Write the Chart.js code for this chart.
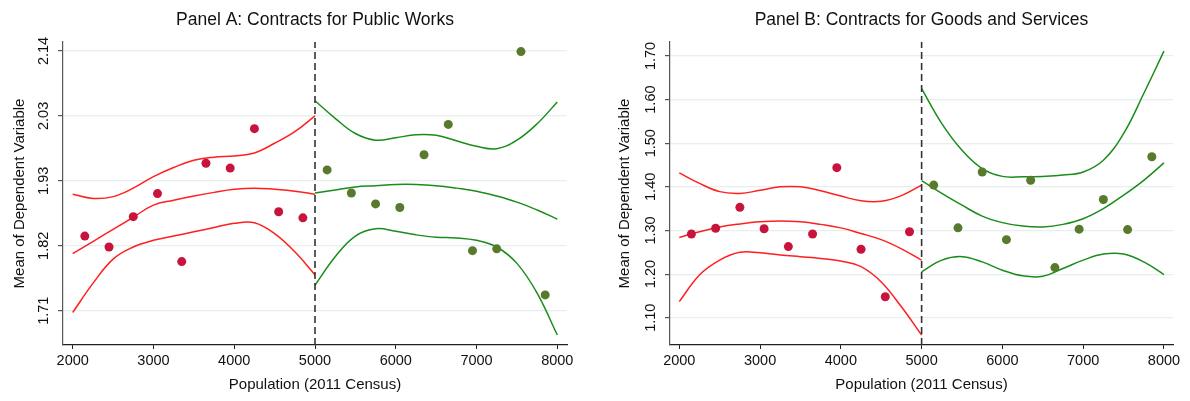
<!DOCTYPE html>
<html>
<head>
<meta charset="utf-8">
<script src="https://cdn.jsdelivr.net/npm/chart.js@4.4.1/dist/chart.umd.min.js"></script>
<style>
  html, body { margin: 0; padding: 0; background: #fff; }
  .row { display: flex; width: 1190px; height: 401px; }
  canvas { display: block; }
</style>
</head>
<body>
<div class="row">
  <canvas id="panelA" width="595" height="401"></canvas>
  <canvas id="panelB" width="595" height="401"></canvas>
</div>
<script>
// bin midpoints and curve sample points (population)
const binsLeft = [2150, 2450, 2750, 3050, 3350, 3650, 3950, 4250, 4550, 4850];
const binsRight = [5150, 5450, 5750, 6050, 6350, 6650, 6950, 7250, 7550, 7850];
const xLeft = [2000, 2250, 2500, 2750, 3000, 3250, 3500, 3750, 4000, 4250, 4500, 4750, 5000];
const xRight = [5000, 5250, 5500, 5750, 6000, 6250, 6500, 6750, 7000, 7250, 7500, 7750, 8000];
const cutoff = 5000;
const xTicks = [2000, 3000, 4000, 5000, 6000, 7000, 8000];

// Panel A: public works
const aPtsLeft = [1.835, 1.817, 1.867, 1.905, 1.793, 1.955, 1.947, 2.012, 1.875, 1.865];
const aPtsRight = [1.944, 1.906, 1.888, 1.882, 1.969, 2.019, 1.811, 1.814, 2.139, 1.738];
const aFitLeft = [1.806, 1.826, 1.846, 1.866, 1.886, 1.894, 1.901, 1.907, 1.912, 1.914, 1.912, 1.909, 1.904];
const aHiLeft = [1.904, 1.897, 1.900, 1.914, 1.933, 1.948, 1.960, 1.965, 1.967, 1.972, 1.988, 2.007, 2.033];
const aLoLeft = [1.709, 1.757, 1.797, 1.817, 1.828, 1.835, 1.842, 1.849, 1.856, 1.857, 1.839, 1.809, 1.771];
const aFitRight = [1.906, 1.911, 1.916, 1.918, 1.920, 1.920, 1.918, 1.914, 1.909, 1.901, 1.891, 1.878, 1.863];
const aHiRight = [2.058, 2.029, 2.004, 1.993, 1.997, 2.002, 2.001, 1.992, 1.983, 1.979, 1.993, 2.020, 2.056];
const aLoRight = [1.754, 1.801, 1.835, 1.847, 1.843, 1.837, 1.833, 1.832, 1.828, 1.817, 1.790, 1.741, 1.672];
const aYTicks = [1.712, 1.819, 1.926, 2.033, 2.140];

// Panel B: goods and services
const bPtsLeft = [1.292, 1.305, 1.353, 1.304, 1.263, 1.292, 1.444, 1.257, 1.148, 1.297];
const bPtsRight = [1.404, 1.306, 1.434, 1.279, 1.415, 1.215, 1.303, 1.371, 1.302, 1.469];
const bFitLeft = [1.284, 1.297, 1.308, 1.315, 1.320, 1.322, 1.320, 1.314, 1.306, 1.293, 1.279, 1.258, 1.232];
const bHiLeft = [1.432, 1.408, 1.389, 1.385, 1.392, 1.400, 1.400, 1.391, 1.379, 1.368, 1.367, 1.380, 1.404];
const bLoLeft = [1.137, 1.198, 1.232, 1.250, 1.249, 1.244, 1.240, 1.236, 1.230, 1.217, 1.182, 1.125, 1.060];
const bFitRight = [1.414, 1.385, 1.358, 1.333, 1.318, 1.310, 1.308, 1.314, 1.327, 1.350, 1.381, 1.415, 1.455];
const bHiRight = [1.625, 1.545, 1.484, 1.442, 1.424, 1.423, 1.424, 1.427, 1.434, 1.461, 1.522, 1.614, 1.711];
const bLoRight = [1.205, 1.232, 1.240, 1.228, 1.209, 1.196, 1.195, 1.213, 1.232, 1.246, 1.246, 1.228, 1.199];
const bYTicks = [1.10, 1.20, 1.30, 1.40, 1.50, 1.60, 1.70];

Chart.defaults.font.family = '"Liberation Sans", Arial, sans-serif';
Chart.defaults.color = '#111';

const RED_DOT = '#c8143c';
const GREEN_DOT = '#587a2c';
const RED_LINE = '#ff1f1f';
const GREEN_LINE = '#1a8c1a';

const toXY = (xs, ys) => xs.map((x, i) => ({ x: x, y: ys[i] }));

const curve = (xs, ys, color) => ({
  type: 'line',
  data: toXY(xs, ys),
  borderColor: color,
  borderWidth: 1.5,
  pointRadius: 0,
  tension: 0.4,
  fill: false,
  order: 2
});

const dots = (xs, ys, color) => ({
  type: 'scatter',
  data: toXY(xs, ys),
  backgroundColor: color,
  borderWidth: 0,
  pointRadius: 4.5,
  order: 0
});

function buildPanel(id, p) {
  const ctx = document.getElementById(id).getContext('2d');
  return new Chart(ctx, {
    type: 'scatter',
    data: {
      datasets: [
        dots(binsLeft, p.ptsLeft, RED_DOT),
        dots(binsRight, p.ptsRight, GREEN_DOT),
        curve(xLeft, p.hiLeft, RED_LINE),
        curve(xLeft, p.fitLeft, RED_LINE),
        curve(xLeft, p.loLeft, RED_LINE),
        curve(xRight, p.hiRight, GREEN_LINE),
        curve(xRight, p.fitRight, GREEN_LINE),
        curve(xRight, p.loRight, GREEN_LINE),
        // cutoff line
        {
          type: 'line',
          data: [{ x: cutoff, y: p.yMin }, { x: cutoff, y: p.yMax }],
          borderColor: '#333',
          borderWidth: 1.6,
          borderDash: [7, 4],
          pointRadius: 0,
          order: 1
        }
      ]
    },
    options: {
      responsive: false,
      animation: false,
      devicePixelRatio: 1,
      layout: { padding: { left: p.padLeft, right: p.padRight, top: 0, bottom: 0 } },
      plugins: {
        legend: { display: false },
        tooltip: { enabled: false },
        title: {
          display: true,
          text: p.title,
          fullSize: false,
          color: '#111',
          font: { size: 17.5, weight: 'normal' },
          padding: { top: 9.8, bottom: 11.2 }
        }
      },
      scales: {
        x: {
          type: 'linear',
          min: p.xMin,
          max: p.xMax,
          afterBuildTicks: s => { s.ticks = xTicks.map(v => ({ value: v })); },
          afterFit: s => { s.height = 56; },
          grid: { drawOnChartArea: false, tickLength: 4, color: '#222' },
          border: { color: '#222', width: 1.2 },
          ticks: { font: { size: 14.5 }, padding: 3, maxRotation: 0, callback: v => String(v) },
          title: {
            display: true,
            text: 'Population (2011 Census)',
            font: { size: 15 },
            padding: { top: 0, bottom: 7 }
          }
        },
        y: {
          type: 'linear',
          min: p.yMin,
          max: p.yMax,
          afterBuildTicks: s => { s.ticks = p.yTicks.map(v => ({ value: v })); },
          afterFit: s => { s.width = p.yWidth; },
          grid: { color: '#e6eff0', lineWidth: 1.2, tickLength: 5, tickColor: '#555' },
          border: { color: '#555', width: 1.2 },
          ticks: {
            font: { size: 14.5 },
            minRotation: 90,
            maxRotation: 90,
            crossAlign: 'center',
            padding: 0,
            callback: v => v.toFixed(2)
          },
          title: {
            display: true,
            text: 'Mean of Dependent Variable',
            font: { size: 15 },
            padding: { top: 7, bottom: 0 }
          }
        }
      }
    }
  });
}

buildPanel('panelA', {
  title: 'Panel A: Contracts for Public Works',
  ptsLeft: aPtsLeft, ptsRight: aPtsRight,
  fitLeft: aFitLeft, hiLeft: aHiLeft, loLeft: aLoLeft,
  fitRight: aFitRight, hiRight: aHiRight, loRight: aLoRight,
  yTicks: aYTicks, yMin: 1.6555, yMax: 2.1548,
  xMin: 1880, xMax: 8120,
  padLeft: 4, padRight: 28, yWidth: 59
});

buildPanel('panelB', {
  title: 'Panel B: Contracts for Goods and Services',
  ptsLeft: bPtsLeft, ptsRight: bPtsRight,
  fitLeft: bFitLeft, hiLeft: bHiLeft, loLeft: bLoLeft,
  fitRight: bFitRight, hiRight: bHiRight, loRight: bLoRight,
  yTicks: bYTicks, yMin: 1.0375, yMax: 1.732,
  xMin: 1885, xMax: 8112,
  padLeft: 14, padRight: 17, yWidth: 61
});
</script>
</body>
</html>
